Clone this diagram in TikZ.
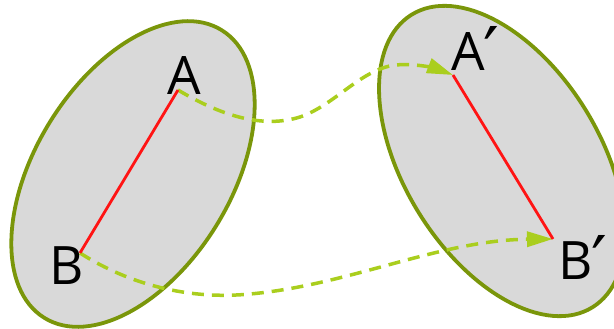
\documentclass[tikz,border=0pt]{standalone}
\usepackage{fontspec}
\setmainfont{Open Sans}
\newfontfamily\primefont{DejaVu Sans}
\usetikzlibrary{shapes.geometric,arrows.meta}
\definecolor{rimolive}{RGB}{122,150,10}
\definecolor{planefill}{RGB}{217,217,217}
\definecolor{mapgreen}{RGB}{170,206,30}
\definecolor{segred}{RGB}{255,20,20}
\newcommand{\prm}{\raisebox{-7pt}{\fontsize{70}{70}\primefont\kern-1pt\char"2032}}
\tikzset{
  plane/.style={ellipse, draw=rimolive, line width=3.8pt, fill=planefill, inner sep=0pt},
  segment/.style={draw=segred, line width=2.8pt},
  mapping/.style={draw=mapgreen, line width=3.5pt, dash pattern=on 12pt off 8pt,
    -{Triangle[length=26pt,width=15pt,fill=mapgreen]}},
  ptlabel/.style={font=\fontsize{53}{56}\selectfont, inner sep=0pt, text=black},
}
\begin{document}
\begin{tikzpicture}[x=1pt,y=-1pt]
\useasboundingbox (0,0) rectangle (614,329);
% the two planes
\node[plane, minimum width=338pt, minimum height=196pt, rotate=58.4] (left) at (133,174) {};
\node[plane, minimum width=344pt, minimum height=196pt, rotate=-58.3] (right) at (502,161) {};
% the points
\coordinate (A) at (178,90);
\coordinate (B) at (80,253);
\coordinate (A2) at (453,75);
\coordinate (B2) at (553,239);
% mappings from the left plane to the right plane
\draw[mapping] (A) .. controls (225,118) and (265,128) .. (300,117)
  .. controls (335,105) and (360,70) .. (395,65)
  .. controls (420,63) and (440,70) .. (A2);
\draw[mapping] (B) .. controls (130,285) and (190,300) .. (250,294)
  .. controls (350,285) and (440,240) .. (B2);
% the segments
\draw[segment] (A) -- (B);
\draw[segment] (A2) -- (B2);
% labels
\node[ptlabel] (labA) at (184,76) {A};
\node[ptlabel] (labB) at (67,266) {B};
\node[ptlabel, anchor=base west] (labA2) at (451,71) {A\prm};
\node[ptlabel, anchor=base west] (labB2) at (558,279) {B\prm};
\end{tikzpicture}
\end{document}
